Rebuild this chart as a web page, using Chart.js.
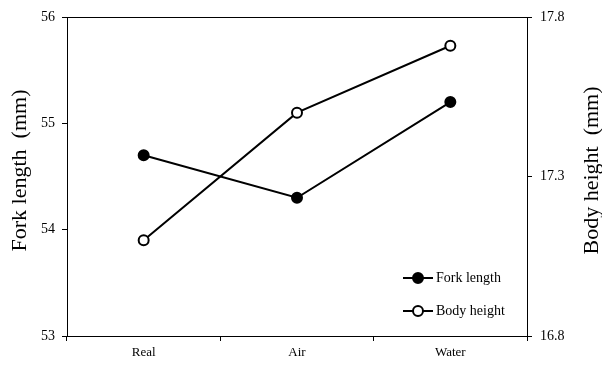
<!DOCTYPE html>
<html>
<head>
<meta charset="utf-8">
<script src="https://cdn.jsdelivr.net/npm/chart.js@4/dist/chart.umd.min.js"></script>
<style>
  html, body { margin: 0; padding: 0; background: #fff; }
  #wrap { width: 602px; height: 370px; }
</style>
</head>
<body>
<div id="wrap"><canvas id="chart" width="602" height="370"></canvas></div>
<script>
// data
const categories = ['Real', 'Air', 'Water'];
const forkLength = [54.7, 54.3, 55.2];
const bodyHeight = [17.1, 17.5, 17.71];
const leftTicks = [53, 54, 55, 56];
const rightTicks = [16.8, 17.3, 17.8];
const leftTitle = 'Fork length  (mm)';
const rightTitle = 'Body height  (mm)';

const SERIF = "'Liberation Serif', 'Times New Roman', serif";

// box top line, both axis titles (read bottom to top) and legend inside the plot
const framePlugin = {
    id: 'frame',
    afterDraw(chart) {
        const { ctx, chartArea: a } = chart;
        ctx.save();
        ctx.strokeStyle = '#000';
        ctx.lineWidth = 1;
        ctx.beginPath();
        ctx.moveTo(a.left, a.top + 0.5);
        ctx.lineTo(a.right, a.top + 0.5);
        ctx.stroke();

        // axis titles
        ctx.fillStyle = '#000';
        ctx.font = '22px ' + SERIF;
        ctx.textAlign = 'center';
        ctx.textBaseline = 'middle';
        const midY = (a.top + a.bottom) / 2 - 6;
        [[20, leftTitle], [592, rightTitle]].forEach(([x, t]) => {
            ctx.save();
            ctx.translate(x, midY);
            ctx.rotate(-Math.PI / 2);
            ctx.fillText(t, 0, 0);
            ctx.restore();
        });

        // legend
        ctx.font = '14px ' + SERIF;
        ctx.textAlign = 'left';
        chart.data.datasets.forEach((ds, i) => {
            const y = a.bottom - 58 + i * 33;
            const x0 = a.right - 124;
            ctx.lineWidth = 2;
            ctx.strokeStyle = '#000';
            ctx.beginPath();
            ctx.moveTo(x0, y);
            ctx.lineTo(x0 + 30, y);
            ctx.stroke();
            ctx.beginPath();
            ctx.arc(x0 + 15, y, 5, 0, Math.PI * 2);
            ctx.fillStyle = ds.pointBackgroundColor;
            ctx.fill();
            ctx.stroke();
            ctx.fillStyle = '#000';
            ctx.fillText(ds.label, x0 + 33, y);
        });
        ctx.restore();
    }
};

new Chart(document.getElementById('chart'), {
    type: 'line',
    data: {
        labels: categories,
        datasets: [
            {
                label: 'Fork length',
                data: forkLength,
                yAxisID: 'y',
                borderColor: '#000',
                borderWidth: 2,
                pointRadius: 5,
                pointBorderWidth: 2,
                pointBorderColor: '#000',
                pointBackgroundColor: '#000',
                tension: 0
            },
            {
                label: 'Body height',
                data: bodyHeight,
                yAxisID: 'y2',
                borderColor: '#000',
                borderWidth: 2,
                pointRadius: 5,
                pointBorderWidth: 2,
                pointBorderColor: '#000',
                pointBackgroundColor: '#fff',
                tension: 0
            }
        ]
    },
    options: {
        responsive: false,
        animation: false,
        layout: { padding: { top: 17, left: 0, right: 0, bottom: 0 } },
        plugins: {
            legend: { display: false },
            tooltip: { enabled: false }
        },
        scales: {
            x: {
                offset: true,
                afterFit: s => { s.height = 34; },
                grid: { offset: true, drawOnChartArea: false, drawTicks: true, tickLength: 5, color: '#000' },
                border: { display: true, color: '#000', width: 1 },
                ticks: { color: '#000', padding: 4, font: { family: SERIF, size: 13 } }
            },
            y: {
                position: 'left',
                min: 53,
                max: 56,
                afterFit: s => { s.width = 67; },
                afterBuildTicks: s => { s.ticks = leftTicks.map(v => ({ value: v })); },
                grid: { drawOnChartArea: false, drawTicks: true, tickLength: 5, color: '#000' },
                border: { display: true, color: '#000', width: 1 },
                ticks: { color: '#000', padding: 7, font: { family: SERIF, size: 14 } }
            },
            y2: {
                position: 'right',
                min: 16.8,
                max: 17.8,
                afterFit: s => { s.width = 75; },
                afterBuildTicks: s => { s.ticks = rightTicks.map(v => ({ value: v })); },
                grid: { drawOnChartArea: false, drawTicks: true, tickLength: 5, color: '#000' },
                border: { display: true, color: '#000', width: 1 },
                ticks: {
                    color: '#000', padding: 8, font: { family: SERIF, size: 14 },
                    callback: v => Number(v).toFixed(1)
                }
            }
        }
    },
    plugins: [framePlugin]
});
</script>
</body>
</html>
